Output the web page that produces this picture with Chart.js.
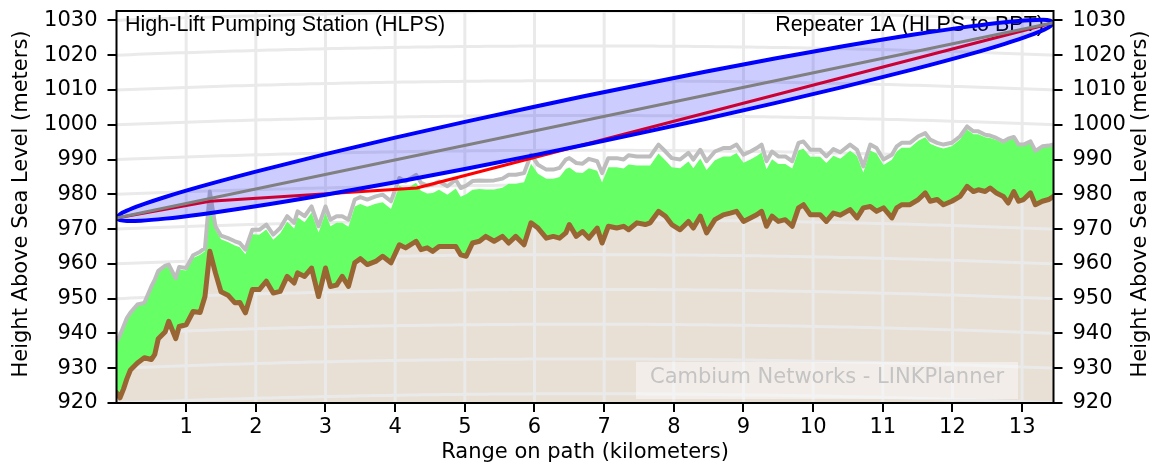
<!DOCTYPE html>
<html>
<head>
<meta charset="utf-8">
<script src="https://cdn.jsdelivr.net/npm/chart.js@4.4.1/dist/chart.umd.min.js"></script>
<style>
    html, body { margin: 0; padding: 0; background: #ffffff; }
    #wrap { width: 1156px; height: 468px; }
</style>
</head>
<body>
<div id="wrap"><canvas id="profileChart" width="1156" height="468"></canvas></div>
<script>
// path profile, distance in km, heights in metres above sea level
const dist = [
    0, 0.05, 0.1, 0.15, 0.2, 0.3, 0.4, 0.5, 0.55, 0.6,
    0.7, 0.75, 0.85, 0.9, 1.0, 1.1, 1.2, 1.27, 1.34, 1.42,
    1.5, 1.6, 1.7, 1.77, 1.85, 1.95, 2.05, 2.15, 2.25, 2.35,
    2.45, 2.55, 2.6, 2.7, 2.8, 2.9, 3.0, 3.07, 3.16, 3.24,
    3.33, 3.42, 3.5, 3.6, 3.72, 3.82, 3.94, 4.06, 4.15, 4.3,
    4.37, 4.46, 4.54, 4.63, 4.75, 4.87, 4.94, 5.02, 5.11, 5.21,
    5.3, 5.42, 5.54, 5.63, 5.73, 5.85, 5.95, 6.05, 6.17, 6.27,
    6.36, 6.45, 6.5, 6.6, 6.69, 6.78, 6.9, 6.97, 7.06, 7.18,
    7.28, 7.35, 7.47, 7.59, 7.66, 7.78, 7.88, 7.97, 8.09, 8.21,
    8.28, 8.38, 8.47, 8.59, 8.71, 8.81, 8.9, 9.0, 9.1, 9.19,
    9.26, 9.33, 9.41, 9.5, 9.6, 9.7, 9.79, 9.86, 9.96, 10.1,
    10.19, 10.29, 10.39, 10.53, 10.63, 10.72, 10.82, 10.91, 11.01, 11.13,
    11.2, 11.27, 11.39, 11.51, 11.61, 11.68, 11.78, 11.87, 11.99, 12.11,
    12.21, 12.3, 12.37, 12.47, 12.54, 12.63, 12.73, 12.8, 12.88, 12.95,
    13.02, 13.12, 13.19, 13.29, 13.38, 13.45
];
const terrain = [
    923.0, 921.5, 924.0, 927.0, 929.5, 931.5, 933.0, 932.5, 934.0, 938.5,
    940.5, 943.5, 938.5, 942.0, 942.5, 946.3, 946.0, 950.6, 963.6, 957.4,
    952.0, 951.0, 948.8, 948.9, 945.9, 952.6, 952.6, 955.0, 951.6, 952.1,
    956.4, 954.5, 957.4, 956.4, 958.8, 950.6, 958.8, 953.5, 953.9, 956.4,
    953.5, 960.3, 961.5, 959.8, 960.7, 962.2, 960.3, 965.5, 964.6, 966.5,
    964.1, 964.6, 963.6, 965.0, 965.0, 965.0, 962.6, 962.2, 966.0, 966.5,
    967.9, 966.5, 967.9, 966.0, 967.9, 965.5, 971.8, 970.3, 967.4, 967.9,
    967.4, 968.9, 971.3, 967.9, 969.3, 967.4, 970.3, 966.0, 970.8, 970.3,
    970.8, 969.8, 971.8, 971.3, 971.8, 975.1, 973.7, 971.3, 969.8, 972.2,
    970.3, 973.7, 968.9, 972.7, 974.1, 974.6, 975.1, 972.2, 973.2, 974.1,
    975.1, 970.8, 973.7, 972.2, 972.7, 970.8, 976.1, 977.0, 974.1, 974.1,
    972.2, 974.6, 974.0, 975.6, 973.2, 976.1, 976.5, 975.1, 976.1, 973.2,
    976.1, 977.0, 977.0, 978.5, 980.4, 978.0, 978.5, 977.0, 978.0, 979.4,
    982.3, 980.8, 981.3, 980.8, 981.8, 980.4, 979.4, 977.5, 980.8, 978.0,
    978.5, 980.4, 977.0, 978.0, 978.5, 979.4
];
// top of the clutter (green)
const clutter = [
    937.7, 939.5, 941.9, 944.4, 945.8, 948.1, 948.5, 953.1, 955.1, 957.6,
    959.0, 959.2, 955.3, 958.4, 958.1, 961.7, 962.6, 963.6, 979.9, 969.8,
    967.1, 966.3, 965.3, 964.8, 962.8, 968.5, 968.4, 969.9, 966.9, 968.8,
    972.1, 970.2, 973.4, 972.0, 974.8, 969.0, 974.7, 970.8, 971.8, 971.8,
    970.7, 976.5, 977.2, 976.4, 977.3, 977.7, 975.8, 982.5, 981.4, 983.3,
    981.0, 980.2, 980.4, 981.3, 979.9, 981.7, 979.3, 980.0, 981.3, 981.5,
    981.4, 981.4, 981.9, 983.0, 983.0, 983.5, 988.8, 985.9, 984.5, 984.5,
    985.0, 987.3, 987.7, 986.3, 986.1, 987.5, 986.8, 983.4, 987.8, 987.8,
    987.4, 988.6, 988.3, 988.3, 988.3, 991.7, 989.7, 987.8, 987.5, 989.4,
    987.5, 990.3, 987.0, 989.8, 990.9, 990.9, 991.9, 989.1, 990.0, 991.0,
    992.0, 987.2, 990.1, 988.7, 988.7, 987.4, 992.7, 993.1, 990.8, 990.8,
    989.0, 991.1, 990.2, 992.5, 991.0, 986.3, 992.6, 991.7, 988.4, 989.9,
    992.3, 993.4, 993.4, 995.4, 996.4, 994.5, 993.7, 993.2, 993.8, 995.8,
    998.6, 997.3, 997.3, 996.4, 996.2, 995.6, 994.7, 995.5, 996.1, 993.9,
    994.0, 994.9, 992.3, 993.7, 993.9, 994.3
];
// grey obstruction line
const obstruction = [
    937.7, 939.5, 942.0, 944.5, 946.0, 948.3, 948.8, 953.5, 955.5, 958.0,
    959.5, 959.8, 955.9, 959.1, 958.8, 962.5, 963.5, 964.5, 980.8, 970.8,
    968.1, 967.4, 966.5, 966.0, 964.1, 969.8, 969.8, 971.3, 968.4, 970.3,
    973.7, 971.8, 975.1, 973.7, 976.5, 970.8, 976.5, 972.7, 973.7, 973.7,
    972.7, 978.5, 979.2, 978.5, 979.4, 979.9, 978.0, 984.7, 983.7, 985.6,
    983.3, 982.5, 982.8, 983.7, 982.3, 984.2, 981.8, 982.5, 983.8, 984.0,
    983.9, 984.0, 984.5, 985.6, 985.6, 986.1, 991.4, 988.5, 987.1, 987.1,
    987.6, 990.0, 990.4, 989.0, 988.8, 990.2, 989.5, 986.1, 990.4, 990.4,
    990.0, 991.2, 990.9, 990.9, 990.9, 994.3, 992.3, 990.4, 990.0, 991.9,
    990.0, 992.8, 989.5, 992.3, 993.3, 993.3, 994.3, 991.4, 992.3, 993.3,
    994.3, 989.5, 992.3, 990.9, 990.9, 989.5, 994.8, 995.2, 992.8, 992.8,
    990.9, 993.0, 992.1, 994.3, 992.8, 988.0, 994.3, 993.3, 990.0, 991.4,
    993.8, 994.8, 994.8, 996.7, 997.6, 995.7, 994.8, 994.3, 994.8, 996.7,
    999.5, 998.1, 998.1, 997.1, 996.9, 996.2, 995.2, 996.0, 996.5, 994.3,
    994.3, 995.2, 992.5, 993.8, 994.0, 994.3
];

// line of sight between the two antennas
const losDist = [0, 13.45];
const losHeight = [973.2, 1029.3];

// red path line
const hullDist = [0, 1.34, 4.31, 13.45];
const hullHeight = [973.2, 978.0, 981.8, 1029.3];

// fresnel zone outline
const fresnelDist = [0, 0.05, 0.15, 0.35, 0.7, 1.2, 2, 3, 4, 5, 6, 6.725, 7.45, 8.45, 9.45, 10.45, 11.45, 12.25, 12.75, 13.1, 13.3, 13.4, 13.45];
const fresnelUpper = [973.2, 974.26, 975.3, 976.89, 979.23, 982.2, 986.52, 991.54, 996.28, 1000.83, 1005.19, 1008.25, 1011.23, 1015.21, 1019.02, 1022.62, 1025.94, 1028.28, 1029.49, 1030.07, 1030.15, 1029.94, 1029.3];
const fresnelLower = [973.2, 972.56, 972.36, 972.43, 973.01, 974.22, 976.56, 979.88, 983.48, 987.29, 991.27, 994.25, 997.31, 1001.67, 1006.22, 1010.96, 1015.98, 1020.3, 1023.27, 1025.61, 1027.21, 1028.24, 1029.3];

const xTicks = [1, 2, 3, 4, 5, 6, 7, 8, 9, 10, 11, 12, 13];
const yTicks = [920, 930, 940, 950, 960, 970, 980, 990, 1000, 1010, 1020, 1030];
const pathLength = 13.45;

const leftLabel = 'High-Lift Pumping Station (HLPS)';
const rightLabel = 'Repeater 1A (HLPS to BPT)';
const xTitle = 'Range on path (kilometers)';
const yTitle = 'Height Above Sea Level (meters)';
const watermark = 'Cambium Networks - LINKPlanner';

function pts(xs, ys) {
    return xs.map(function (v, i) { return { x: v, y: ys[i] }; });
}

// earth bulge used for the curved height grid (m)
function bulge(d) {
    return d * (pathLength - d) / 17.0;
}

const FONT = "'DejaVu Sans'";

const decorPlugin = {
    id: 'decor',
    afterDatasetDraw(chart, args) {
        if (args.index !== 7) return;
        const { ctx, chartArea: a, scales: { x, y } } = chart;
        ctx.save();
        ctx.beginPath();
        ctx.rect(a.left, a.top, a.right - a.left, a.bottom - a.top);
        ctx.clip();
        ctx.strokeStyle = '#eaeaea';
        ctx.lineWidth = 3;
        xTicks.forEach(function (v) {
            const px = x.getPixelForValue(v);
            ctx.beginPath();
            ctx.moveTo(px, a.top);
            ctx.lineTo(px, a.bottom);
            ctx.stroke();
        });
        for (let v = 910; v <= 1040; v += 10) {
            ctx.beginPath();
            for (let i = 0; i <= 135; i++) {
                const d = Math.min(i * 0.1, pathLength);
                const px = x.getPixelForValue(d);
                const py = y.getPixelForValue(v + bulge(d));
                if (i === 0) ctx.moveTo(px, py); else ctx.lineTo(px, py);
            }
            ctx.stroke();
        }
        ctx.fillStyle = '#000';
        ctx.font = "21.5px 'Liberation Sans'";
        ctx.textBaseline = 'alphabetic';
        ctx.textAlign = 'left';
        ctx.fillText(leftLabel, 125, 30.5);
        ctx.textAlign = 'right';
        ctx.fillText(rightLabel, 1044, 30.5);
        ctx.restore();
    },
    afterDatasetsDraw(chart) {
        const { ctx, chartArea: a } = chart;
        ctx.save();
        ctx.fillStyle = 'rgba(255,255,255,0.45)';
        ctx.fillRect(636, 362, 382, 37);
        ctx.fillStyle = '#c4c4c4';
        ctx.font = '21px ' + FONT;
        ctx.textAlign = 'center';
        ctx.textBaseline = 'middle';
        ctx.fillText(watermark, 827, 378);
        ctx.strokeStyle = '#000';
        ctx.lineWidth = 2;
        ctx.strokeRect(a.left, a.top, a.right - a.left, a.bottom - a.top);
        ctx.restore();
    },
    afterDraw(chart) {
        const { ctx, chartArea: a } = chart;
        const cy = (a.top + a.bottom) / 2 - 3;
        ctx.save();
        ctx.fillStyle = '#000';
        ctx.font = '21px ' + FONT;
        ctx.textAlign = 'center';
        ctx.textBaseline = 'middle';
        ctx.fillText(xTitle, (a.left + a.right) / 2, 453);
        ctx.translate(22, cy);
        ctx.rotate(-Math.PI / 2);
        ctx.fillText(yTitle, 0, 0);
        ctx.restore();
        ctx.save();
        ctx.fillStyle = '#000';
        ctx.font = '21px ' + FONT;
        ctx.textAlign = 'center';
        ctx.textBaseline = 'middle';
        ctx.translate(1141, cy);
        ctx.rotate(-Math.PI / 2);
        ctx.fillText(yTitle, 0, 0);
        ctx.restore();
    }
};

function plainLabel(value) {
    return String(value);
}

function yAxis(position, width) {
    return {
        type: 'linear',
        position: position,
        min: 920,
        max: 1032.7,
        afterFit: function (scale) {
            scale.width = width;
            scale.paddingTop = 0;
            scale.paddingBottom = 0;
        },
        afterBuildTicks: function (scale) {
            scale.ticks = yTicks.map(function (v) { return { value: v }; });
        },
        border: { display: false },
        grid: { drawOnChartArea: false, drawTicks: true, tickLength: 9, color: '#000', lineWidth: 2 },
        ticks: { color: '#000', padding: 10, callback: plainLabel, font: { family: FONT, size: 21 } }
    };
}

new Chart('profileChart', {
    type: 'line',
    data: {
        datasets: [
            { label: 'los', data: pts(losDist, losHeight), borderColor: '#808080', borderWidth: 3, pointRadius: 0, fill: false, order: 0 },
            { label: 'fresnelUpper', data: pts(fresnelDist, fresnelUpper), borderColor: '#0000ff', borderWidth: 4, pointRadius: 0, cubicInterpolationMode: 'monotone', fill: '+1', backgroundColor: 'rgba(0,0,255,0.2)', order: 1 },
            { label: 'fresnelLower', data: pts(fresnelDist, fresnelLower), borderColor: '#0000ff', borderWidth: 4, pointRadius: 0, cubicInterpolationMode: 'monotone', fill: false, order: 2 },
            { label: 'path', data: pts(hullDist, hullHeight), borderColor: '#ff0000', borderWidth: 3, pointRadius: 0, fill: false, order: 3 },
            { label: 'terrain', data: pts(dist, terrain), borderColor: '#996633', borderWidth: 5, pointRadius: 0, fill: false, order: 4 },
            { label: 'obstruction', data: pts(dist, obstruction), borderColor: '#bdbdbd', borderWidth: 4, pointRadius: 0, fill: false, order: 5 },
            { label: 'clutter', data: pts(dist, clutter), borderWidth: 0, borderColor: 'rgba(0,0,0,0)', pointRadius: 0, fill: 7, backgroundColor: '#66ff66', order: 6 },
            { label: 'ground', data: pts(dist, terrain), borderWidth: 0, borderColor: 'rgba(0,0,0,0)', pointRadius: 0, fill: 'start', backgroundColor: '#e8dfd5', order: 7 }
        ]
    },
    options: {
        responsive: false,
        animation: false,
        devicePixelRatio: 1,
        layout: { padding: { top: 11, left: 0, right: 0, bottom: 0 } },
        plugins: { legend: { display: false }, tooltip: { enabled: false } },
        elements: { line: { borderCapStyle: 'round', borderJoinStyle: 'round' } },
        scales: {
            x: {
                type: 'linear',
                min: 0,
                max: pathLength,
                afterFit: function (scale) {
                    scale.height = 65;
                    scale.paddingLeft = 0;
                    scale.paddingRight = 0;
                },
                afterBuildTicks: function (scale) {
                    scale.ticks = xTicks.map(function (v) { return { value: v }; });
                },
                border: { display: false },
                grid: { drawOnChartArea: false, drawTicks: true, tickLength: 9, color: '#000', lineWidth: 2 },
                ticks: { color: '#000', padding: 3, maxRotation: 0, autoSkip: false, callback: plainLabel, font: { family: FONT, size: 21 } }
            },
            y: yAxis('left', 116.5),
            y2: yAxis('right', 102.5)
        }
    },
    plugins: [decorPlugin]
});
</script>
</body>
</html>
